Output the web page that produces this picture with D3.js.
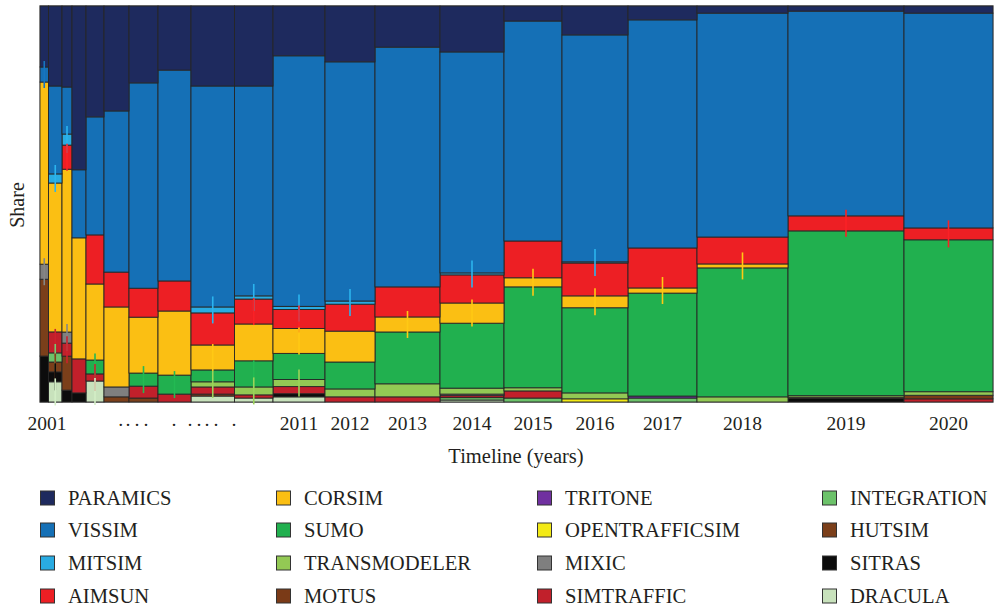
<!DOCTYPE html>
<html><head><meta charset="utf-8">
<script src="https://cdn.jsdelivr.net/npm/d3@7"></script>
<style>body{margin:0;background:#fff}svg{display:block}text{font-family:"Liberation Serif","DejaVu Serif",serif;fill:#231f20}</style>
</head><body><svg id="c" width="994" height="610"></svg>
<script>
const years = [2001,2002,2003,2004,2005,2006,2007,2008,2009,2010,2011,2012,2013,2014,2015,2016,2017,2018,2019,2020];
// relative number of papers per year (column width)
const yearWeight = [8.5,13.5,10,14,18,25,29,33,43.5,38.5,52,50,65,64,58,66,69,91,116,89];
const tickLabels = ["2001","","","","","","","","","","2011","2012","2013","2014","2015","2016","2017","2018","2019","2020"];
const dotPositions = [120.7,128,137,146,174,190,199,207,216,234];

const PARAMICS =      [15.4,20.2,20.5,41.4,28.0,26.5,19.4,16.2,20.2,20.2,12.6,14.1,10.4,11.6,3.8,7.3,3.5,1.8,1.3,1.8];
const VISSIM =        [3.8,22.2,11.9,17.2,29.8,40.7,51.8,53.3,55.8,53.0,63.4,60.4,60.6,55.8,55.6,57.3,57.6,56.6,51.8,54.3];
const MITSIM =        [0,2.3,2.8,0,0,0,0,0,1.5,0.8,0.8,0.8,0,0.5,0,0.3,0,0,0,0];
const AIMSUN =        [0,0,6.1,0,12.4,8.8,7.3,7.6,8.1,6.3,4.8,6.8,7.6,7.1,9.3,8.3,10.1,6.8,3.8,3.0];
const CORSIM =        [46.0,37.6,41.2,30.6,19.2,20.2,14.1,16.2,6.3,9.3,6.3,7.8,3.8,5.1,2.3,3.0,1.3,1.0,0,0];
const SUMO =          [0,0,0,0,3.5,0,3.3,4.8,3.0,6.6,6.6,6.8,13.1,16.4,25.5,21.5,26.0,32.6,41.7,38.4];
const TRANSMODELER =  [0,0,0,0,0,0,0,0,1.3,2.0,1.8,2.0,3.3,1.5,0.8,1.5,0,1.3,0.4,0.9];
const MOTUS =         [0,0,0,0,0,0,0,0,0,0,0,0,0,0,0,0,0,0,0,0.9];
const TRITONE =       [0,0,0,0,0,0,0,0,0,0,0,0,0,0,0,0,0.5,0,0,0];
const OPENTRAFFICSIM =[0,0,0,0,0,0,0,0,0,0,0,0,0,0,0,0.8,0,0,0,0];
const MIXIC =         [3.8,0,2.8,0,0,2.5,0,0,0,0,0,0,0,0.4,0,0,0,0,0,0];
const SIMTRAFFIC =    [0,5.3,3.3,8.6,1.8,0,3.0,2.0,1.8,0.8,1.8,1.3,1.3,0.5,1.8,0,0,0,0,0.8];
const INTEGRATION =   [0,2.3,0,0,0,0,0,0,0,0,0,0,0,0.6,1.0,0,1.0,0,0,0];
const HUTSIM =        [19.4,2.5,8.6,0,0,1.3,1.0,0,0.5,0,0,0,0,0,0,0,0,0,0.3,0];
const SITRAS =        [11.6,2.5,3.0,2.3,0,0,0,0,0,0,0.8,0,0,0,0,0,0,0,0.9,0];
const DRACULA =       [0,5.1,0,0,5.3,0,0,0,1.5,1.0,1.3,0,0,0.5,0,0,0,0,0,0];

const seriesNames = ["PARAMICS","VISSIM","MITSIM","AIMSUN","CORSIM","SUMO","TRANSMODELER","MOTUS","TRITONE","OPENTRAFFICSIM","MIXIC","SIMTRAFFIC","INTEGRATION","HUTSIM","SITRAS","DRACULA"];
const seriesValues = [PARAMICS,VISSIM,MITSIM,AIMSUN,CORSIM,SUMO,TRANSMODELER,MOTUS,TRITONE,OPENTRAFFICSIM,MIXIC,SIMTRAFFIC,INTEGRATION,HUTSIM,SITRAS,DRACULA];
const seriesColors = ["#1e2a5e","#1570b6","#29abe2","#ed1f24","#fbbf13","#21b04f","#93c954","#7a3a17","#7030a0","#f3ea16","#7f7f7f","#c1202b","#6cc26a","#7b3f1a","#0c0c0c","#c8e2bc"];

// small marker ticks at segment centres [year, series]
const markers = [
 [2001,"VISSIM"],[2001,"MIXIC"],
 [2002,"MITSIM"],[2002,"SIMTRAFFIC"],[2002,"INTEGRATION"],[2002,"HUTSIM"],[2002,"SITRAS"],[2002,"DRACULA"],
 [2003,"MITSIM"],[2003,"AIMSUN"],[2003,"MIXIC"],[2003,"SIMTRAFFIC"],
 [2005,"SUMO"],[2005,"SIMTRAFFIC"],[2005,"DRACULA"],
 [2007,"SUMO"],[2008,"SUMO"],
 [2009,"MITSIM"],[2009,"CORSIM"],[2009,"TRANSMODELER"],
 [2010,"MITSIM"],[2010,"AIMSUN"],[2010,"SUMO"],[2010,"TRANSMODELER"],
 [2011,"MITSIM"],[2011,"AIMSUN"],[2011,"CORSIM"],[2011,"TRANSMODELER"],
 [2012,"MITSIM"],
 [2013,"CORSIM"],[2014,"MITSIM"],[2014,"CORSIM"],[2015,"CORSIM"],
 [2016,"MITSIM"],[2016,"CORSIM"],[2017,"CORSIM"],[2018,"CORSIM"],
 [2019,"AIMSUN"],[2020,"AIMSUN"]
];

const svg = d3.select("#c");
const L=40, R=993, T=6, B=402;

const rows = years.map((y,i)=>{const o={year:y}; seriesNames.forEach((s,k)=>o[s]=seriesValues[k][i]); return o;});
const stackOrder = seriesNames.slice().reverse();
const stacked = d3.stack().keys(stackOrder).offset(d3.stackOffsetExpand)(rows);

const cum = [0]; yearWeight.forEach(w=>cum.push(cum[cum.length-1]+w));
const x = d3.scaleLinear().domain([0,cum[cum.length-1]]).range([L,R]);
const y = d3.scaleLinear().domain([0,1]).range([B,T]);
const color = d3.scaleOrdinal().domain(seriesNames).range(seriesColors);

svg.append("rect").attr("x",L).attr("y",T-0.5).attr("width",R-L).attr("height",B-T+1).attr("fill","none").attr("stroke","#9a9a9a").attr("stroke-width",1);

const g = svg.append("g");
stacked.forEach(layer=>{
  g.selectAll(null).data(layer.filter(d=>d[1]-d[0]>1e-9)).join("rect")
   .attr("x",d=>x(cum[years.indexOf(d.data.year)]))
   .attr("width",d=>{const i=years.indexOf(d.data.year);return x(cum[i+1])-x(cum[i]);})
   .attr("y",d=>y(d[1])).attr("height",d=>y(d[0])-y(d[1]))
   .attr("fill",color(layer.key)).attr("stroke","#262626").attr("stroke-width",0.9);
});

// markers
const mk = svg.append("g");
markers.forEach(([yr,s])=>{
  const i=years.indexOf(yr); const layer=stacked.find(l=>l.key===s); const d=layer[i];
  if(d[1]-d[0]<=0) return;
  const cx=(x(cum[i])+x(cum[i+1]))/2, cy=(y(d[0])+y(d[1]))/2;
  mk.append("line").attr("x1",cx).attr("x2",cx).attr("y1",cy-13.5).attr("y2",cy+13.5)
    .attr("stroke",d3.color(color(s)).brighter(0.15)).attr("stroke-width",1.6);
});

// x labels
svg.append("g").selectAll("text").data(tickLabels.map((t,i)=>({t,i})).filter(d=>d.t)).join("text")
  .attr("x",d=>d.i===0?47:(x(cum[d.i])+x(cum[d.i+1]))/2).attr("y",430)
  .attr("text-anchor","middle").attr("font-size",19.5).text(d=>d.t);
svg.append("g").selectAll("text").data(dotPositions).join("text")
  .attr("x",d=>d).attr("y",431).attr("text-anchor","middle").attr("font-size",19.5).text("·");

svg.append("text").attr("x",516).attr("y",463).attr("text-anchor","middle").attr("font-size",20.5).text("Timeline (years)");
svg.append("text").attr("transform","translate(24,205) rotate(-90)").attr("text-anchor","middle").attr("font-size",20).text("Share");

// legend
const legX=[40,276,537,822], legY=[498,530,563,596];
const leg = svg.append("g");
seriesNames.forEach((s,k)=>{
  const c=Math.floor(k/4), r=k%4;
  leg.append("rect").attr("x",legX[c]+0.5).attr("y",legY[r]-7).attr("width",14).attr("height",14)
    .attr("fill",color(s)).attr("stroke","#333").attr("stroke-width",1);
  leg.append("text").attr("x",legX[c]+28).attr("y",legY[r]+7).attr("font-size",20.6).text(s);
});
</script></body></html>
